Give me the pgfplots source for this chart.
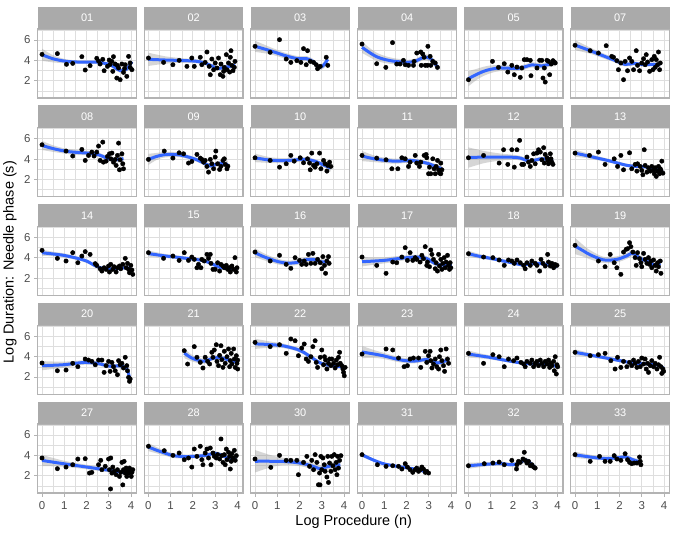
\documentclass[border=0pt]{standalone}
\usepackage{fontspec}
\setmainfont{Liberation Sans}
\usepackage{pgfplots}
\pgfplotsset{compat=1.18}
\usepgfplotslibrary{fillbetween}
\definecolor{grid87}{RGB}{222,222,222}
\definecolor{gray70}{RGB}{179,179,179}
\definecolor{gray30}{RGB}{77,77,77}
\definecolor{gray60}{RGB}{153,153,153}
\definecolor{stripgray}{RGB}{170,170,170}
\definecolor{smoothblue}{HTML}{3366FF}
\newcommand{\ticklab}{\fontsize{11.5}{13}\selectfont}
\newcommand{\striplab}{\fontsize{11}{13}\selectfont}
\pgfplotsset{
 panel/.style={anchor=north west, scale only axis, width=98.8bp, height=69bp,
  xmin=-0.19, xmax=4.25, ymin=0.3, ymax=7.08,
  xtick={0,1,2,3,4}, ytick={2,4,6},
  minor xtick={0.5,1.5,2.5,3.5}, minor ytick={1,3,5,7},
  grid=both,
  major grid style={draw=grid87, line width=0.9bp},
  minor grid style={draw=grid87, line width=0.45bp},
  axis line style={draw=gray70, line width=1.2bp},
  xtick pos=bottom, ytick pos=left, tick align=outside,
  major tick length=3.7bp, minor tick length=0pt,
  tick style={line width=0.9bp},
  major x tick style={draw=none}, major y tick style={draw=none},
  xticklabels={}, yticklabels={},
  tick label style={font=\ticklab, text=gray30},
  xticklabel style={yshift=-1.5bp},
  /pgf/number format/assume math mode=true},
 innerax/.style={},
 leftax/.style={yticklabels={2,4,6}, major y tick style={draw=gray70}},
 bottomax/.style={xticklabels={0,1,2,3,4}, major x tick style={draw=gray70}},
 leftbottom/.style={leftax,bottomax},
}
\newcommand{\panel}[8]{%
\begin{axis}[panel,#4,at={(#1bp,-#2bp)}]
\addplot[name path=U#3, draw=none, smooth, mark=none] coordinates {#7};
\addplot[name path=L#3, draw=none, smooth, mark=none] coordinates {#8};
\addplot[fill=gray60, fill opacity=0.4, draw=none] fill between[of=U#3 and L#3];
\addplot[only marks, mark=*, mark size=2.2bp, black] coordinates {#5};
\addplot[draw=smoothblue, line width=3bp, smooth, mark=none] coordinates {#6};
\end{axis}
\fill[stripgray] (#1bp,-#2bp) rectangle ++(98.8bp,22.5bp);
\node[text=white, font=\striplab, inner sep=0pt] at (#1bp+49.4bp,-#2bp+11.25bp) {#3};
}
\begin{document}
\begin{tikzpicture}
% row 1
\panel{37.8}{29}{01}{leftax}
{(0,4.59)(0.69,4.66)(1.10,3.61)(1.38,3.70)(1.79,4.36)(1.94,3.05)(2.16,3.48)(2.46,4.2)(2.54,3.93)(2.61,3.64)(2.73,4.1)(2.79,2.98)(2.94,3.41)(3.02,4.03)(3.14,3.9)(3.21,4.36)(3.18,2.92)(3.29,3.64)(3.36,2.26)(3.44,3.25)(3.51,2.1)(3.59,3.64)(3.66,2.82)(3.74,3.57)(3.81,2.43)(3.89,4.39)(3.96,3.74)(4.04,3.08)(3.96,3.31)(3.06,3.6)(3.39,3.5)(3.71,3.2)}
{(0,4.55)(0.5,4.15)(1.1,3.9)(1.8,3.82)(2.5,3.82)(3.06,3.57)(3.3,3.25)(3.51,3.0)(3.81,3.15)(4.04,3.88)}
{(0,5.15)(0.5,4.5)(1.1,4.1)(1.8,3.97)(2.5,3.97)(3.06,3.75)(3.3,3.45)(3.51,3.22)(3.81,3.4)(4.04,4.33)}
{(0,3.95)(0.5,3.8)(1.1,3.7)(1.8,3.67)(2.5,3.67)(3.06,3.39)(3.3,3.05)(3.51,2.78)(3.81,2.9)(4.04,3.43)}
\panel{144.2}{29}{02}{innerax}
{(0,4.23)(0.68,3.8)(1.10,3.57)(1.38,4.0)(1.73,3.41)(1.95,4.23)(2.06,3.41)(2.33,4.3)(2.40,3.57)(2.55,3.8)(2.63,4.82)(2.73,3.41)(2.85,4.13)(2.93,3.08)(3.00,3.74)(3.08,3.25)(3.15,4.23)(3.23,2.59)(3.26,3.64)(3.35,2.43)(3.41,3.31)(3.50,4.56)(3.53,3.08)(3.60,3.74)(3.65,2.85)(3.71,4.95)(3.75,3.51)(3.80,2.98)(3.86,3.31)(3.89,3.9)(3.68,4.3)(3.38,2.92)(2.78,2.59)}
{(0,4.1)(0.8,4.03)(1.6,3.98)(2.2,3.9)(2.55,3.72)(2.85,3.45)(3.1,3.2)(3.4,3.3)(3.9,3.51)}
{(0,4.75)(0.8,4.38)(1.6,4.2)(2.2,4.1)(2.55,3.9)(2.85,3.63)(3.1,3.4)(3.4,3.5)(3.9,3.81)}
{(0,3.45)(0.8,3.68)(1.6,3.76)(2.2,3.7)(2.55,3.54)(2.85,3.27)(3.1,3.0)(3.4,3.1)(3.9,3.21)}
\panel{250.8}{29}{03}{innerax}
{(0,5.38)(0.68,4.79)(1.10,6.03)(1.40,4.13)(1.61,3.8)(1.88,3.97)(2.06,3.8)(2.18,5.15)(2.36,4.95)(2.30,3.57)(2.48,3.9)(2.63,3.8)(2.75,3.57)(2.81,3.18)(2.93,3.41)(3.20,4.3)(3.27,3.51)}
{(0,5.38)(0.68,4.95)(1.3,4.5)(1.88,4.18)(2.33,4.16)(2.63,3.85)(2.85,3.35)(3.05,3.45)(3.27,4.1)}
{(0,5.93)(0.68,5.3)(1.3,4.78)(1.88,4.43)(2.33,4.41)(2.63,4.1)(2.85,3.63)(3.05,3.75)(3.27,4.55)}
{(0,4.83)(0.68,4.6)(1.3,4.22)(1.88,3.93)(2.33,3.91)(2.63,3.6)(2.85,3.07)(3.05,3.15)(3.27,3.65)}
\panel{357.8}{29}{04}{innerax}
{(0,5.6)(0.66,3.67)(1.07,3.31)(1.37,5.74)(1.56,3.64)(1.71,3.64)(1.86,4.0)(1.94,3.57)(2.09,3.51)(2.31,3.51)(2.34,3.9)(2.46,4.72)(2.64,4.82)(2.66,3.51)(2.73,4.62)(2.79,4.3)(2.84,3.51)(2.96,5.38)(2.94,3.51)(3.06,4.39)(3.09,3.51)(3.18,3.9)(3.29,3.74)(3.39,3.31)}
{(0,5.28)(0.35,4.75)(0.66,4.35)(1.0,4.1)(1.41,3.92)(2.09,3.8)(2.46,3.97)(2.76,4.3)(3.06,4.2)(3.25,3.75)(3.39,3.35)}
{(0,5.83)(0.35,5.2)(0.66,4.75)(1.0,4.45)(1.41,4.22)(2.09,4.05)(2.46,4.22)(2.76,4.58)(3.06,4.5)(3.25,4.1)(3.39,3.8)}
{(0,4.73)(0.35,4.3)(0.66,3.95)(1.0,3.75)(1.41,3.62)(2.09,3.55)(2.46,3.72)(2.76,4.02)(3.06,3.9)(3.25,3.4)(3.39,2.9)}
\panel{464.2}{29}{05}{innerax}
{(0,2.1)(1.08,3.9)(1.35,3.31)(1.61,3.67)(1.77,2.85)(1.95,3.51)(2.06,2.59)(2.18,3.34)(2.33,2.33)(2.40,3.25)(2.51,4.07)(2.63,4.07)(2.78,4.0)(2.81,2.49)(3.08,3.25)(3.20,4.0)(3.30,4.0)(3.35,2.26)(3.41,3.25)(3.45,1.87)(3.53,4.0)(3.60,3.9)(3.65,2.59)(3.72,3.64)(3.80,3.97)(3.86,3.84)(3.90,3.74)}
{(0,2.2)(0.35,2.6)(0.68,2.92)(1.0,3.12)(1.43,3.25)(2.18,3.2)(2.48,3.33)(2.85,3.55)(3.1,3.5)(3.3,3.45)(3.6,3.6)(3.9,3.78)}
{(0,2.95)(0.35,3.15)(0.68,3.37)(1.0,3.5)(1.43,3.55)(2.18,3.45)(2.48,3.58)(2.85,3.8)(3.1,3.75)(3.3,3.7)(3.6,3.85)(3.9,4.13)}
{(0,1.45)(0.35,2.05)(0.68,2.47)(1.0,2.74)(1.43,2.95)(2.18,2.95)(2.48,3.08)(2.85,3.3)(3.1,3.25)(3.3,3.2)(3.6,3.35)(3.9,3.43)}
\panel{570.8}{29}{07}{innerax}
{(0,5.48)(0.68,4.95)(1.05,4.72)(1.40,5.44)(1.65,4.39)(1.73,4.3)(1.88,3.97)(1.95,3.08)(2.06,3.74)(2.18,2.1)(2.25,3.9)(2.36,2.98)(2.45,4.23)(2.55,3.9)(2.63,3.08)(2.75,4.95)(2.81,3.51)(2.90,2.98)(3.00,3.74)(3.08,4.16)(3.15,3.57)(3.20,4.56)(3.26,3.84)(3.35,2.92)(3.45,4.07)(3.50,3.08)(3.56,4.39)(3.60,3.31)(3.65,4.07)(3.71,3.57)(3.75,4.82)(3.80,3.08)(3.83,3.74)}
{(0,5.5)(0.68,4.95)(1.2,4.5)(1.73,4.05)(2.25,3.6)(2.63,3.7)(3.08,3.58)(3.5,3.6)(3.83,3.58)}
{(0,6.0)(0.68,5.25)(1.2,4.75)(1.73,4.27)(2.25,3.8)(2.63,3.9)(3.08,3.76)(3.5,3.78)(3.83,3.83)}
{(0,5.0)(0.68,4.65)(1.2,4.25)(1.73,3.83)(2.25,3.4)(2.63,3.5)(3.08,3.4)(3.5,3.42)(3.83,3.33)}
% row 2
\panel{37.8}{127.75}{08}{leftax}
{(0,5.41)(1.08,4.79)(1.38,4.3)(1.79,4.95)(1.94,3.87)(2.09,4.36)(2.24,4.69)(2.34,4.3)(2.46,4.69)(2.54,5.28)(2.61,3.87)(2.73,5.67)(2.76,3.7)(2.88,3.8)(2.94,4.26)(3.03,4.52)(3.09,4.03)(3.14,4.59)(3.21,3.7)(3.29,3.97)(3.33,3.38)(3.39,4.36)(3.44,5.57)(3.48,2.95)(3.51,3.93)(3.59,4.52)(3.63,3.54)(3.66,3.05)}
{(0,5.34)(0.5,5.03)(1.08,4.77)(1.6,4.65)(2.09,4.58)(2.54,4.43)(2.85,4.15)(3.14,3.95)(3.4,3.95)(3.66,4.05)}
{(0,5.79)(0.5,5.35)(1.08,5.02)(1.6,4.9)(2.09,4.78)(2.54,4.63)(2.85,4.37)(3.14,4.2)(3.4,4.25)(3.66,4.47)}
{(0,4.89)(0.5,4.71)(1.08,4.52)(1.6,4.4)(2.09,4.38)(2.54,4.23)(2.85,3.93)(3.14,3.7)(3.4,3.65)(3.66,3.63)}
\panel{144.2}{127.75}{09}{innerax}
{(0,3.97)(0.71,4.79)(1.10,4.1)(1.38,4.62)(1.58,4.52)(1.80,3.61)(1.95,3.77)(2.18,4.46)(2.33,4.1)(2.40,3.97)(2.48,3.7)(2.55,3.87)(2.63,3.28)(2.70,2.72)(2.78,3.97)(2.85,3.54)(2.93,3.05)(3.00,4.2)(3.03,4.79)(3.11,3.54)(3.20,2.98)(3.26,3.28)(3.35,3.87)(3.41,4.03)(3.45,3.48)(3.53,3.05)(3.57,3.31)}
{(0,3.97)(0.35,4.25)(0.68,4.42)(1.05,4.46)(1.43,4.4)(1.8,4.2)(2.18,3.93)(2.5,3.6)(2.78,3.33)(3.0,3.45)(3.2,3.6)(3.57,3.45)}
{(0,4.52)(0.35,4.6)(0.68,4.7)(1.05,4.71)(1.43,4.62)(1.8,4.4)(2.18,4.13)(2.5,3.8)(2.78,3.55)(3.0,3.67)(3.2,3.85)(3.57,3.85)}
{(0,3.42)(0.35,3.9)(0.68,4.14)(1.05,4.21)(1.43,4.18)(1.8,4.0)(2.18,3.73)(2.5,3.4)(2.78,3.11)(3.0,3.23)(3.2,3.35)(3.57,3.05)}
\panel{250.8}{127.75}{10}{innerax}
{(0,4.13)(0.68,3.87)(1.10,3.21)(1.40,3.54)(1.61,4.36)(1.76,3.8)(2.03,4.13)(2.18,3.64)(2.36,4.03)(2.45,3.61)(2.55,4.59)(2.48,2.95)(2.63,3.38)(2.70,3.21)(2.78,3.54)(2.90,4.59)(2.96,3.05)(3.08,3.87)(3.15,3.54)(3.23,2.82)(3.27,3.38)(3.35,3.7)(3.41,3.28)}
{(0,4.12)(0.68,3.9)(1.2,3.85)(1.58,3.88)(2.18,3.98)(2.5,3.9)(2.78,3.72)(3.1,3.4)(3.4,3.12)}
{(0,4.54)(0.68,4.18)(1.2,4.1)(1.58,4.1)(2.18,4.18)(2.5,4.1)(2.78,3.92)(3.1,3.62)(3.4,3.47)}
{(0,3.7)(0.68,3.62)(1.2,3.6)(1.58,3.66)(2.18,3.78)(2.5,3.7)(2.78,3.52)(3.1,3.18)(3.4,2.77)}
\panel{357.8}{127.75}{11}{innerax}
{(0,4.36)(0.66,4.1)(1.08,3.93)(1.34,3.05)(1.61,3.05)(1.79,4.13)(1.94,4.03)(2.09,3.28)(2.16,3.7)(2.39,4.36)(2.46,3.61)(2.58,3.28)(2.64,3.7)(2.79,4.36)(2.88,4.46)(2.91,4.13)(2.99,2.56)(3.03,3.21)(3.09,2.56)(3.18,4.03)(3.24,3.05)(3.29,2.56)(3.33,3.28)(3.39,3.87)(3.44,2.95)(3.48,2.62)(3.54,3.61)(3.59,2.95)(3.54,2.56)}
{(0,4.3)(0.66,3.98)(1.41,3.8)(1.9,3.83)(2.16,3.87)(2.55,3.78)(2.99,3.55)(3.29,3.3)(3.59,3.05)}
{(0,4.8)(0.66,4.28)(1.41,4.05)(1.9,4.05)(2.16,4.09)(2.55,3.98)(2.99,3.75)(3.29,3.52)(3.59,3.37)}
{(0,3.8)(0.66,3.68)(1.41,3.55)(1.9,3.61)(2.16,3.65)(2.55,3.58)(2.99,3.35)(3.29,3.08)(3.59,2.73)}
\panel{464.2}{127.75}{12}{innerax}
{(0,4.13)(0.68,4.36)(1.38,3.61)(1.58,4.92)(1.77,3.48)(1.95,4.92)(2.06,3.21)(2.18,4.92)(2.30,5.84)(2.40,3.48)(2.48,3.48)(2.63,4.2)(2.70,3.7)(2.78,3.28)(2.85,3.87)(2.93,4.52)(3.00,3.54)(3.08,4.59)(3.15,4.92)(3.23,4.69)(3.30,3.93)(3.38,5.12)(3.41,3.61)(3.45,4.46)(3.53,4.13)(3.57,3.87)(3.60,3.54)(3.68,4.52)(3.71,4.03)(3.75,3.7)(3.80,3.48)}
{(0,4.15)(0.7,4.2)(1.43,4.2)(2.0,4.18)(2.33,4.1)(2.7,3.82)(3.0,3.9)(3.23,4.02)(3.55,3.98)(3.8,3.82)}
{(0,5.15)(0.7,4.8)(1.43,4.55)(2.0,4.43)(2.33,4.32)(2.7,4.02)(3.0,4.1)(3.23,4.22)(3.55,4.2)(3.8,4.12)}
{(0,3.15)(0.7,3.6)(1.43,3.85)(2.0,3.93)(2.33,3.88)(2.7,3.62)(3.0,3.7)(3.23,3.82)(3.55,3.76)(3.8,3.52)}
\panel{570.8}{127.75}{13}{innerax}
{(0,4.59)(0.65,4.36)(1.05,4.69)(1.35,3.48)(1.76,4.03)(2.06,4.36)(1.91,3.28)(2.18,2.95)(2.45,4.62)(2.55,3.05)(2.70,3.48)(2.78,2.82)(2.81,3.54)(2.93,3.28)(3.00,2.89)(3.05,2.46)(3.11,4.92)(3.15,3.38)(3.23,2.72)(3.30,3.15)(3.38,2.82)(3.45,3.28)(3.53,2.89)(3.56,2.56)(3.60,3.15)(3.65,2.3)(3.71,2.82)(3.75,3.28)(3.80,2.56)(3.86,2.89)(3.90,3.8)(3.95,2.62)(3.83,3.05)}
{(0,4.59)(0.5,4.35)(1.0,4.1)(1.5,3.85)(1.88,3.63)(2.3,3.4)(2.63,3.3)(3.08,3.25)(3.53,3.05)(3.95,2.8)}
{(0,4.94)(0.5,4.6)(1.0,4.3)(1.5,4.03)(1.88,3.79)(2.3,3.55)(2.63,3.44)(3.08,3.39)(3.53,3.2)(3.95,3.02)}
{(0,4.24)(0.5,4.1)(1.0,3.9)(1.5,3.67)(1.88,3.47)(2.3,3.25)(2.63,3.16)(3.08,3.11)(3.53,2.9)(3.95,2.58)}
% row 3
\panel{37.8}{226.5}{14}{leftax}
{(0,4.74)(0.69,3.95)(1.08,3.69)(1.38,4.51)(1.61,3.52)(1.79,4.18)(1.94,4.61)(2.16,4.34)(2.39,3.43)(2.46,3.26)(2.61,2.93)(2.69,2.7)(2.79,3.03)(2.88,2.87)(2.99,3.2)(3.03,2.61)(3.09,3.36)(3.18,2.87)(3.24,3.13)(3.33,2.61)(3.39,3.03)(3.48,3.2)(3.54,2.93)(3.63,3.36)(3.74,3.95)(3.78,3.03)(3.84,3.46)(3.89,2.87)(3.93,2.54)(3.99,3.26)(4.04,2.8)(4.08,2.38)}
{(0,4.5)(0.5,4.38)(0.96,4.25)(1.5,4.0)(2.01,3.68)(2.39,3.22)(2.76,2.95)(3.1,2.92)(3.36,2.93)(3.81,3.03)(4.08,2.77)}
{(0,4.8)(0.5,4.6)(0.96,4.45)(1.5,4.18)(2.01,3.86)(2.39,3.37)(2.76,3.09)(3.1,3.05)(3.36,3.06)(3.81,3.18)(4.08,3.02)}
{(0,4.2)(0.5,4.16)(0.96,4.05)(1.5,3.82)(2.01,3.5)(2.39,3.07)(2.76,2.81)(3.1,2.79)(3.36,2.8)(3.81,2.88)(4.08,2.52)}
\panel{144.2}{226.5}{15}{innerax}
{(0,4.51)(0.68,3.95)(1.10,4.18)(1.38,3.75)(1.61,4.51)(1.80,3.75)(1.95,4.08)(2.06,3.85)(2.18,3.03)(2.25,3.36)(2.36,3.03)(2.40,3.85)(2.51,3.69)(2.63,4.34)(2.70,3.95)(2.78,4.34)(2.81,3.46)(2.90,2.87)(3.00,2.87)(3.11,3.52)(3.20,2.7)(3.26,3.36)(3.35,3.2)(3.41,3.03)(3.50,3.26)(3.56,2.87)(3.65,3.03)(3.68,2.61)(3.75,3.2)(3.83,2.87)(3.89,4.02)(3.95,2.61)(3.98,3.03)}
{(0,4.42)(0.7,4.2)(1.43,4.02)(2.0,3.88)(2.48,3.72)(2.85,3.42)(3.23,3.05)(3.6,2.95)(3.98,2.87)}
{(0,4.72)(0.7,4.4)(1.43,4.2)(2.0,4.04)(2.48,3.88)(2.85,3.57)(3.23,3.19)(3.6,3.09)(3.98,3.09)}
{(0,4.12)(0.7,4.0)(1.43,3.84)(2.0,3.72)(2.48,3.56)(2.85,3.27)(3.23,2.91)(3.6,2.81)(3.98,2.65)}
\panel{250.8}{226.5}{16}{innerax}
{(0,4.57)(0.68,3.69)(1.10,4.25)(1.40,3.36)(1.61,2.97)(1.80,4.02)(2.00,3.75)(2.10,3.36)(2.21,3.69)(2.30,3.36)(2.40,4.34)(2.51,3.46)(2.60,4.44)(2.70,3.46)(2.81,3.85)(2.93,3.52)(3.00,2.93)(3.05,4.12)(3.12,3.26)(3.17,2.48)(3.23,3.69)(3.30,4.12)(3.33,3.46)}
{(0,4.5)(0.35,4.15)(0.68,3.88)(1.05,3.62)(1.44,3.48)(1.88,3.55)(2.25,3.8)(2.63,3.85)(2.93,3.62)(3.3,3.6)}
{(0,4.95)(0.35,4.5)(0.68,4.18)(1.05,3.9)(1.44,3.73)(1.88,3.8)(2.25,4.05)(2.63,4.1)(2.93,3.87)(3.3,4.0)}
{(0,4.05)(0.35,3.8)(0.68,3.58)(1.05,3.34)(1.44,3.23)(1.88,3.3)(2.25,3.55)(2.63,3.6)(2.93,3.37)(3.3,3.2)}
\panel{357.8}{226.5}{17}{innerax}
{(0,4.08)(0.66,3.26)(1.08,2.48)(1.38,3.59)(1.56,3.52)(1.79,4.08)(1.94,5.0)(2.04,3.75)(2.16,4.51)(2.28,3.75)(2.39,4.02)(2.46,3.85)(2.61,3.59)(2.69,4.25)(2.76,3.92)(2.84,5.1)(2.91,3.26)(2.94,3.59)(3.03,3.13)(3.09,4.77)(3.14,4.34)(3.21,3.85)(3.29,2.93)(3.33,3.52)(3.39,2.7)(3.44,4.34)(3.48,3.2)(3.54,3.85)(3.59,2.87)(3.63,3.46)(3.69,4.02)(3.74,3.03)(3.78,3.59)(3.84,4.25)(3.89,3.26)(3.93,2.87)(3.96,3.52)(3.99,3.03)}
{(0,3.62)(0.98,3.75)(1.71,3.95)(2.46,4.08)(2.91,3.93)(3.15,3.6)(3.36,3.38)(3.74,3.26)(4.04,3.26)}
{(0,4.07)(0.98,4.05)(1.71,4.2)(2.46,4.3)(2.91,4.15)(3.15,3.8)(3.36,3.58)(3.74,3.46)(4.04,3.56)}
{(0,3.17)(0.98,3.45)(1.71,3.7)(2.46,3.86)(2.91,3.71)(3.15,3.4)(3.36,3.18)(3.74,3.06)(4.04,2.96)}
\panel{464.2}{226.5}{18}{innerax}
{(0,4.41)(0.68,4.08)(1.10,4.02)(1.38,3.79)(1.61,3.26)(1.80,3.79)(1.95,3.69)(2.06,3.46)(2.18,3.79)(2.33,3.52)(2.48,3.26)(2.55,2.93)(2.63,3.52)(2.78,3.26)(2.85,3.69)(3.00,3.46)(3.08,3.26)(3.20,2.7)(3.26,3.85)(3.35,3.46)(3.45,3.2)(3.56,4.34)(3.60,3.59)(3.68,3.2)(3.75,3.46)(3.83,3.03)(3.89,3.36)(3.98,3.26)}
{(0,4.4)(0.5,4.15)(1.0,3.95)(1.5,3.72)(1.88,3.55)(2.2,3.4)(2.48,3.3)(2.78,3.42)(3.23,3.45)(3.6,3.3)(3.98,3.13)}
{(0,4.7)(0.5,4.37)(1.0,4.13)(1.5,3.88)(1.88,3.7)(2.2,3.55)(2.48,3.44)(2.78,3.56)(3.23,3.59)(3.6,3.44)(3.98,3.33)}
{(0,4.1)(0.5,3.93)(1.0,3.77)(1.5,3.56)(1.88,3.4)(2.2,3.25)(2.48,3.16)(2.78,3.28)(3.23,3.31)(3.6,3.16)(3.98,2.93)}
\panel{570.8}{226.5}{19}{innerax}
{(0,5.23)(1.05,3.69)(1.35,3.13)(1.58,4.34)(1.76,3.52)(1.88,3.03)(2.06,2.38)(2.18,4.57)(2.30,4.84)(2.36,4.9)(2.45,5.49)(2.51,5.1)(2.60,4.57)(2.70,4.02)(2.75,3.26)(2.81,4.51)(2.90,3.92)(2.96,3.52)(3.00,3.13)(3.08,4.44)(3.15,3.85)(3.23,3.46)(3.30,4.02)(3.35,3.36)(3.41,3.69)(3.45,3.03)(3.53,3.79)(3.60,3.26)(3.65,2.7)(3.71,3.52)(3.75,3.13)(3.83,3.69)(3.86,2.48)}
{(0,5.16)(0.4,4.65)(0.68,4.3)(1.28,3.8)(1.88,3.85)(2.33,4.2)(2.55,4.45)(2.75,4.25)(2.93,3.95)(3.38,3.52)(3.6,3.25)(3.83,3.45)}
{(0,5.96)(0.4,5.2)(0.68,4.75)(1.28,4.1)(1.88,4.15)(2.33,4.5)(2.55,4.75)(2.75,4.55)(2.93,4.23)(3.38,3.77)(3.6,3.5)(3.83,3.8)}
{(0,4.36)(0.4,4.1)(0.68,3.85)(1.28,3.5)(1.88,3.55)(2.33,3.9)(2.55,4.15)(2.75,3.95)(2.93,3.67)(3.38,3.27)(3.6,3.0)(3.83,3.1)}
% row 4
\panel{37.8}{325.25}{20}{leftax}
{(0,3.37)(0.69,2.61)(1.08,2.68)(1.38,3.34)(1.61,3.01)(1.94,3.76)(2.09,3.66)(2.24,3.53)(2.39,3.2)(2.54,3.66)(2.69,3.66)(2.79,2.45)(2.88,3.11)(2.99,3.53)(3.06,2.55)(3.14,3.43)(3.21,3.01)(3.29,2.61)(3.39,2.22)(3.44,3.6)(3.51,3.2)(3.59,3.34)(3.66,2.88)(3.74,3.93)(3.81,3.11)(3.84,2.61)(3.89,1.96)(3.93,1.57)(3.96,1.8)}
{(0,3.11)(0.96,3.2)(1.86,3.42)(2.46,3.34)(3.06,3.05)(3.44,3.1)(3.74,2.95)(3.85,2.6)(3.96,1.7)}
{(0,3.56)(0.96,3.5)(1.86,3.64)(2.46,3.54)(3.06,3.25)(3.44,3.32)(3.74,3.25)(3.85,2.95)(3.96,2.2)}
{(0,2.66)(0.96,2.9)(1.86,3.2)(2.46,3.14)(3.06,2.85)(3.44,2.88)(3.74,2.65)(3.85,2.25)(3.96,1.2)}
\panel{144.2}{325.25}{21}{innerax}
{(1.61,4.58)(1.76,3.27)(2.06,4.98)(2.18,3.93)(2.33,3.43)(2.45,2.88)(2.55,3.93)(2.66,3.53)(2.75,3.27)(2.85,4.42)(2.90,3.93)(2.96,4.65)(3.05,5.17)(3.08,3.53)(3.15,3.11)(3.20,4.12)(3.26,5.07)(3.30,3.7)(3.35,2.94)(3.41,4.52)(3.45,3.34)(3.53,3.99)(3.60,4.75)(3.65,3.01)(3.68,3.6)(3.72,4.32)(3.75,3.27)(3.83,4.75)(3.86,3.76)(3.90,2.94)(3.95,4.09)(3.98,3.34)(4.01,3.66)(4.01,2.78)}
{(1.61,4.35)(1.8,4.05)(2.03,3.78)(2.48,3.55)(2.93,3.85)(3.23,3.9)(3.68,3.62)(4.05,3.43)}
{(1.61,4.85)(1.8,4.43)(2.03,4.08)(2.48,3.8)(2.93,4.07)(3.23,4.12)(3.68,3.84)(4.05,3.75)}
{(1.61,3.85)(1.8,3.67)(2.03,3.48)(2.48,3.3)(2.93,3.63)(3.23,3.68)(3.68,3.4)(4.05,3.11)}
\panel{250.8}{325.25}{22}{innerax}
{(0,5.4)(0.68,4.98)(1.10,5.17)(1.40,4.32)(1.61,5.73)(1.80,5.56)(1.95,4.09)(2.10,4.84)(2.21,5.24)(2.30,3.76)(2.40,3.53)(2.51,3.99)(2.60,4.98)(2.70,5.56)(2.75,3.43)(2.81,2.94)(2.93,3.93)(3.00,4.65)(3.08,3.2)(3.12,3.99)(3.17,3.66)(3.23,2.78)(3.30,3.34)(3.35,3.76)(3.41,3.11)(3.45,3.76)(3.53,3.34)(3.60,2.88)(3.65,3.66)(3.71,3.2)(3.75,3.93)(3.80,4.42)(3.83,3.34)(3.90,3.11)(3.95,2.78)(3.98,2.45)(4.01,2.12)(4.05,2.94)}
{(0,5.25)(0.7,5.18)(1.28,5.05)(1.88,4.72)(2.2,4.4)(2.48,4.0)(2.93,3.38)(3.38,3.12)(3.83,3.0)(4.05,2.85)}
{(0,5.75)(0.7,5.48)(1.28,5.27)(1.88,4.92)(2.2,4.6)(2.48,4.2)(2.93,3.56)(3.38,3.27)(3.83,3.15)(4.05,3.1)}
{(0,4.75)(0.7,4.88)(1.28,4.83)(1.88,4.52)(2.2,4.2)(2.48,3.8)(2.93,3.2)(3.38,2.97)(3.83,2.85)(4.05,2.6)}
\panel{357.8}{325.25}{23}{innerax}
{(0,4.25)(1.08,4.75)(1.38,4.65)(1.64,3.86)(1.89,3.01)(2.04,3.11)(2.16,3.76)(2.31,3.86)(2.54,3.86)(2.64,2.94)(2.84,4.52)(2.91,3.43)(2.99,4.09)(3.06,4.52)(3.09,3.6)(3.14,2.88)(3.21,3.27)(3.29,3.76)(3.36,3.01)(3.44,2.78)(3.48,3.99)(3.54,4.65)(3.59,3.6)(3.66,3.11)(3.71,2.55)(3.78,4.75)(3.84,3.76)(3.89,3.34)}
{(0,4.45)(0.5,4.27)(0.96,4.08)(1.71,3.68)(2.31,3.55)(2.91,3.72)(3.2,3.5)(3.4,3.38)(3.66,3.5)(3.89,3.75)}
{(0,5.05)(0.5,4.67)(0.96,4.38)(1.71,3.93)(2.31,3.77)(2.91,3.94)(3.2,3.72)(3.4,3.6)(3.66,3.75)(3.89,4.1)}
{(0,3.85)(0.5,3.87)(0.96,3.78)(1.71,3.43)(2.31,3.33)(2.91,3.5)(3.2,3.28)(3.4,3.16)(3.66,3.25)(3.89,3.4)}
\panel{464.2}{325.25}{24}{innerax}
{(0,4.32)(0.68,3.34)(1.10,4.19)(1.38,3.99)(1.61,3.01)(1.80,3.76)(2.03,3.6)(2.18,3.86)(2.36,3.43)(2.48,3.27)(2.55,3.01)(2.63,3.53)(2.78,3.34)(2.85,3.66)(2.93,3.01)(3.00,3.34)(3.08,3.53)(3.15,3.11)(3.23,3.66)(3.30,3.34)(3.38,3.01)(3.45,3.53)(3.53,3.27)(3.60,3.66)(3.65,2.94)(3.71,3.34)(3.75,3.11)(3.83,3.53)(3.86,2.61)(3.90,3.99)(3.95,2.29)(3.98,3.2)(4.01,3.0)}
{(0,4.25)(0.5,4.08)(0.98,3.92)(1.5,3.7)(1.88,3.55)(2.3,3.4)(2.78,3.28)(3.38,3.26)(3.7,3.18)(4.01,3.0)}
{(0,4.6)(0.5,4.33)(0.98,4.12)(1.5,3.86)(1.88,3.69)(2.3,3.53)(2.78,3.4)(3.38,3.38)(3.7,3.31)(4.01,3.2)}
{(0,3.9)(0.5,3.83)(0.98,3.72)(1.5,3.54)(1.88,3.41)(2.3,3.27)(2.78,3.16)(3.38,3.14)(3.7,3.05)(4.01,2.8)}
\panel{570.8}{325.25}{25}{innerax}
{(0,4.42)(0.68,4.09)(1.05,4.19)(1.35,4.32)(1.61,3.6)(1.80,2.78)(1.91,3.93)(2.06,2.94)(2.18,3.53)(2.33,3.01)(2.45,3.43)(2.55,3.11)(2.63,3.66)(2.70,3.34)(2.78,2.94)(2.85,3.53)(2.93,3.01)(3.00,3.86)(3.08,3.27)(3.15,3.76)(3.20,2.78)(3.26,3.34)(3.30,2.45)(3.38,3.11)(3.45,3.6)(3.53,3.01)(3.60,3.34)(3.68,2.78)(3.75,3.2)(3.80,3.93)(3.86,3.01)(3.90,2.35)(3.95,2.78)(3.98,2.55)}
{(0,4.42)(0.68,4.15)(1.3,3.9)(1.88,3.66)(2.63,3.36)(3.08,3.32)(3.53,3.2)(3.75,3.18)(3.98,2.85)}
{(0,4.72)(0.68,4.35)(1.3,4.07)(1.88,3.81)(2.63,3.49)(3.08,3.44)(3.53,3.32)(3.75,3.31)(3.98,3.05)}
{(0,4.12)(0.68,3.95)(1.3,3.73)(1.88,3.51)(2.63,3.23)(3.08,3.2)(3.53,3.08)(3.75,3.05)(3.98,2.65)}
% row 5
\panel{37.8}{424}{27}{leftbottom}
{(0,3.74)(0.69,2.69)(1.08,2.85)(1.38,3.08)(1.61,3.64)(1.94,3.67)(2.13,2.26)(2.24,2.33)(2.54,3.08)(2.64,3.51)(2.69,2.59)(2.84,2.92)(2.99,3.64)(3.03,2.59)(3.09,3.74)(3.14,2.26)(3.18,2.85)(3.08,0.7)(3.24,2.43)(3.33,2.1)(3.39,2.59)(3.48,1.93)(3.54,2.33)(3.59,3.31)(3.63,1.1)(3.66,2.59)(3.69,3.41)(3.74,2.26)(3.78,2.75)(3.81,1.93)(3.84,2.49)(3.89,2.26)(3.93,2.75)(3.96,2.43)(4.01,1.93)(4.04,2.33)(4.08,2.59)}
{(0,3.5)(0.96,3.18)(2.01,2.85)(3.06,2.52)(3.66,2.33)(3.96,2.42)(4.08,2.38)}
{(0,4.05)(0.96,3.48)(2.01,3.07)(3.06,2.72)(3.66,2.53)(3.96,2.67)(4.08,2.68)}
{(0,2.95)(0.96,2.88)(2.01,2.63)(3.06,2.32)(3.66,2.13)(3.96,2.17)(4.08,2.08)}
\panel{144.2}{424}{28}{bottomax}
{(0,4.89)(0.71,4.46)(1.10,4.0)(1.38,4.23)(1.61,3.57)(1.80,3.74)(1.95,2.85)(2.06,4.62)(2.18,3.9)(2.33,4.89)(2.40,3.57)(2.45,3.08)(2.55,4.23)(2.63,4.62)(2.70,3.74)(2.78,4.72)(2.81,3.08)(2.90,4.23)(2.96,3.9)(3.05,3.74)(3.11,4.07)(3.20,3.64)(3.26,5.61)(3.30,3.97)(3.35,3.31)(3.41,4.07)(3.45,3.08)(3.50,4.62)(3.53,3.57)(3.60,4.3)(3.65,3.9)(3.68,2.66)(3.72,3.41)(3.75,4.16)(3.80,3.74)(3.86,4.49)(3.90,3.51)(3.95,3.97)}
{(0,4.82)(0.5,4.4)(1.13,3.97)(1.73,3.88)(2.48,3.97)(3.0,4.2)(3.3,4.0)(3.68,3.64)(3.95,3.72)}
{(0,5.22)(0.5,4.68)(1.13,4.19)(1.73,4.08)(2.48,4.17)(3.0,4.4)(3.3,4.2)(3.68,3.84)(3.95,4.02)}
{(0,4.42)(0.5,4.12)(1.13,3.75)(1.73,3.68)(2.48,3.77)(3.0,4.0)(3.3,3.8)(3.68,3.44)(3.95,3.42)}
\panel{250.8}{424}{30}{bottomax}
{(0,3.64)(0.71,2.82)(1.10,4.0)(1.40,3.51)(1.61,3.51)(1.88,3.51)(1.95,2.1)(2.18,3.31)(2.33,3.9)(2.45,2.92)(2.55,3.51)(2.63,2.59)(2.70,4.07)(2.78,3.31)(2.85,1.11)(2.90,2.26)(2.96,3.9)(3.00,2.59)(3.05,3.74)(3.11,3.08)(3.15,2.43)(3.23,1.87)(3.27,3.9)(3.30,1.34)(3.35,3.25)(3.41,2.43)(3.45,3.9)(3.50,2.98)(3.56,4.07)(3.60,2.59)(3.65,3.31)(3.68,2.1)(3.71,3.9)(3.75,2.75)(3.80,3.51)(3.86,3.97)(2.92,1.1)}
{(0,3.42)(0.7,3.42)(1.28,3.4)(1.9,3.28)(2.33,3.1)(2.7,2.85)(2.93,2.68)(3.15,2.82)(3.38,2.95)(3.83,3.08)}
{(0,4.52)(0.7,4.02)(1.28,3.75)(1.9,3.58)(2.33,3.4)(2.7,3.15)(2.93,3.0)(3.15,3.17)(3.38,3.3)(3.83,3.48)}
{(0,2.32)(0.7,2.82)(1.28,3.05)(1.9,2.98)(2.33,2.8)(2.7,2.55)(2.93,2.36)(3.15,2.47)(3.38,2.6)(3.83,2.68)}
\panel{357.8}{424}{31}{bottomax}
{(0,4.07)(0.69,3.08)(1.08,2.92)(1.38,2.98)(1.64,2.92)(1.79,2.66)(1.94,3.18)(2.04,2.85)(2.16,2.59)(2.28,2.33)(2.39,2.59)(2.46,2.75)(2.54,2.43)(2.61,2.59)(2.69,2.85)(2.76,2.66)(2.84,2.33)(2.91,2.43)(2.99,2.26)}
{(0,4.05)(0.5,3.55)(0.96,3.18)(1.5,2.95)(2.01,2.78)(2.5,2.6)(2.99,2.3)}
{(0,4.25)(0.5,3.7)(0.96,3.3)(1.5,3.05)(2.01,2.88)(2.5,2.7)(2.99,2.48)}
{(0,3.85)(0.5,3.4)(0.96,3.06)(1.5,2.85)(2.01,2.68)(2.5,2.5)(2.99,2.12)}
\panel{464.2}{424}{32}{bottomax}
{(0,2.98)(0.71,3.18)(1.10,3.25)(1.38,3.34)(1.61,3.08)(1.95,3.51)(2.18,3.08)(2.25,3.41)(2.33,3.31)(2.45,3.64)(2.51,4.3)(2.55,3.51)(2.16,2.66)(2.63,3.25)(2.70,3.41)(2.78,2.98)(2.85,3.08)(2.93,2.85)(3.00,2.75)}
{(0,2.98)(0.98,3.15)(1.5,3.18)(1.88,3.08)(2.15,3.15)(2.33,3.3)(2.55,3.55)(2.7,3.4)(2.85,3.1)(3.0,2.8)}
{(0,3.28)(0.98,3.33)(1.5,3.36)(1.88,3.28)(2.15,3.35)(2.33,3.52)(2.55,3.83)(2.7,3.65)(2.85,3.35)(3.0,3.15)}
{(0,2.68)(0.98,2.97)(1.5,3.0)(1.88,2.88)(2.15,2.95)(2.33,3.08)(2.55,3.27)(2.7,3.15)(2.85,2.85)(3.0,2.45)}
\panel{570.8}{424}{33}{bottomax}
{(0,4.07)(0.68,3.41)(1.10,3.9)(1.35,3.41)(1.58,3.41)(1.76,3.97)(1.88,3.64)(2.06,3.51)(2.25,4.16)(2.36,3.57)(2.45,3.31)(2.55,3.18)(2.66,3.25)(2.78,3.25)(2.90,3.84)(2.96,3.08)(2.93,3.41)}
{(0,4.05)(0.98,3.75)(1.5,3.7)(1.88,3.75)(2.25,3.85)(2.63,3.55)(2.96,3.32)}
{(0,4.35)(0.98,3.95)(1.5,3.88)(1.88,3.93)(2.25,4.05)(2.63,3.75)(2.96,3.62)}
{(0,3.75)(0.98,3.55)(1.5,3.52)(1.88,3.57)(2.25,3.65)(2.63,3.35)(2.96,3.02)}
\node[font=\fontsize{14.5}{16}\selectfont, inner sep=0pt] at (353.7bp,-522bp) {Log Procedure (n)};
\node[font=\fontsize{14.5}{16}\selectfont, inner sep=0pt, rotate=90] at (10bp,-262bp) {Log Duration: Needle phase (s)};
\pgfresetboundingbox
\useasboundingbox (0,0) rectangle (677bp,-535bp);
\end{tikzpicture}
\end{document}
